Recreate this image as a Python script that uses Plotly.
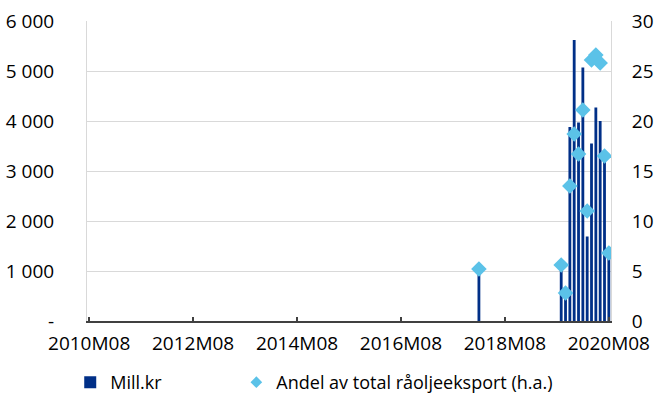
import pandas as pd
import plotly.graph_objects as go

# All monthly categories on the x axis
months = [f"{p.year}M{p.month:02d}" for p in pd.period_range("2010-08", "2020-08", freq="M")]

# Data
data_months = ["2018M02", "2019M09", "2019M10", "2019M11", "2019M12", "2020M01", "2020M02",
               "2020M03", "2020M04", "2020M05", "2020M06", "2020M07", "2020M08"]
mill_kr = [1050, 1100, 560, 3880, 5620, 3970, 5070, 1690, 3550, 4270, 4000, 3300, 1320]
andel = [5.2, 5.6, 2.8, 13.5, 18.7, 16.7, 21.1, 11.0, 26.1, 26.6, 25.8, 16.5, 6.8]

y_ticks = [0, 1000, 2000, 3000, 4000, 5000, 6000]
y_ticktext = ["-", "1 000", "2 000", "3 000", "4 000", "5 000", "6 000"]
y2_ticks = [0, 5, 10, 15, 20, 25, 30]
x_ticks = ["2010M08", "2012M08", "2014M08", "2016M08", "2018M08", "2020M08"]

NAVY = "#002F87"
LIGHT = "#5BC2E8"
GRID = "#D9D9D9"
FONT = "Open Sans"
FS = 19
ANDEL_NAME = "Andel av total råoljeeksport (h.a.)"

fig = go.Figure()
fig.add_trace(go.Bar(x=data_months, y=mill_kr, name="Mill.kr", marker_color=NAVY,
                     marker_line_width=0, width=0.65, legend="legend"))
fig.add_trace(go.Scatter(x=data_months, y=andel, name=ANDEL_NAME,
                         mode="markers", yaxis="y2", showlegend=False,
                         marker=dict(symbol="diamond", size=12, color=LIGHT)))
# legend entry (smaller diamond, as in the reference legend)
fig.add_trace(go.Scatter(x=[None], y=[None], name=ANDEL_NAME, mode="markers",
                         yaxis="y2", legend="legend2", hoverinfo="skip",
                         marker=dict(symbol="diamond", size=9, color=LIGHT)))

leg_common = dict(orientation="h", y=-0.205, yanchor="middle", font=dict(size=18),
                  itemwidth=30, bgcolor="rgba(0,0,0,0)", itemsizing="trace")

fig.update_layout(
    width=656, height=394,
    margin=dict(l=87, r=45, t=21, b=73, autoexpand=False),
    plot_bgcolor="white", paper_bgcolor="white",
    font=dict(family=FONT, size=FS, color="#000000"),
    showlegend=True,
    legend=dict(x=-0.032, xanchor="left", **leg_common),
    legend2=dict(x=0.285, xanchor="left", **leg_common),
    xaxis=dict(type="category", categoryorder="array", categoryarray=months,
               range=[-0.5, len(months) - 0.5],
               tickmode="array", tickvals=x_ticks, ticktext=x_ticks,
               ticks="inside", ticklen=4, tickcolor="#404040", tickwidth=1.5,
               showline=True, linecolor="#404040", linewidth=1.5,
               showgrid=False, tickangle=0, tickfont=dict(size=FS),
               ticklabelstandoff=4, automargin=False),
    yaxis=dict(range=[0, 6000], tickmode="array", tickvals=y_ticks, ticktext=y_ticktext,
               showgrid=True, gridcolor=GRID, gridwidth=1,
               showline=True, linecolor=GRID, linewidth=1, zeroline=False,
               ticks="", ticklabelstandoff=28, tickfont=dict(size=FS), automargin=False),
    yaxis2=dict(range=[0, 30], overlaying="y", side="right", tickmode="array",
                tickvals=y2_ticks, showgrid=False, showline=True, linecolor=GRID,
                linewidth=1, zeroline=False, ticks="", ticklabelstandoff=16,
                tickfont=dict(size=FS), automargin=False),
)

fig.write_html("out.html", config={"displayModeBar": False},
               post_script="document.body.style.margin='0';document.body.style.overflow='hidden';")
